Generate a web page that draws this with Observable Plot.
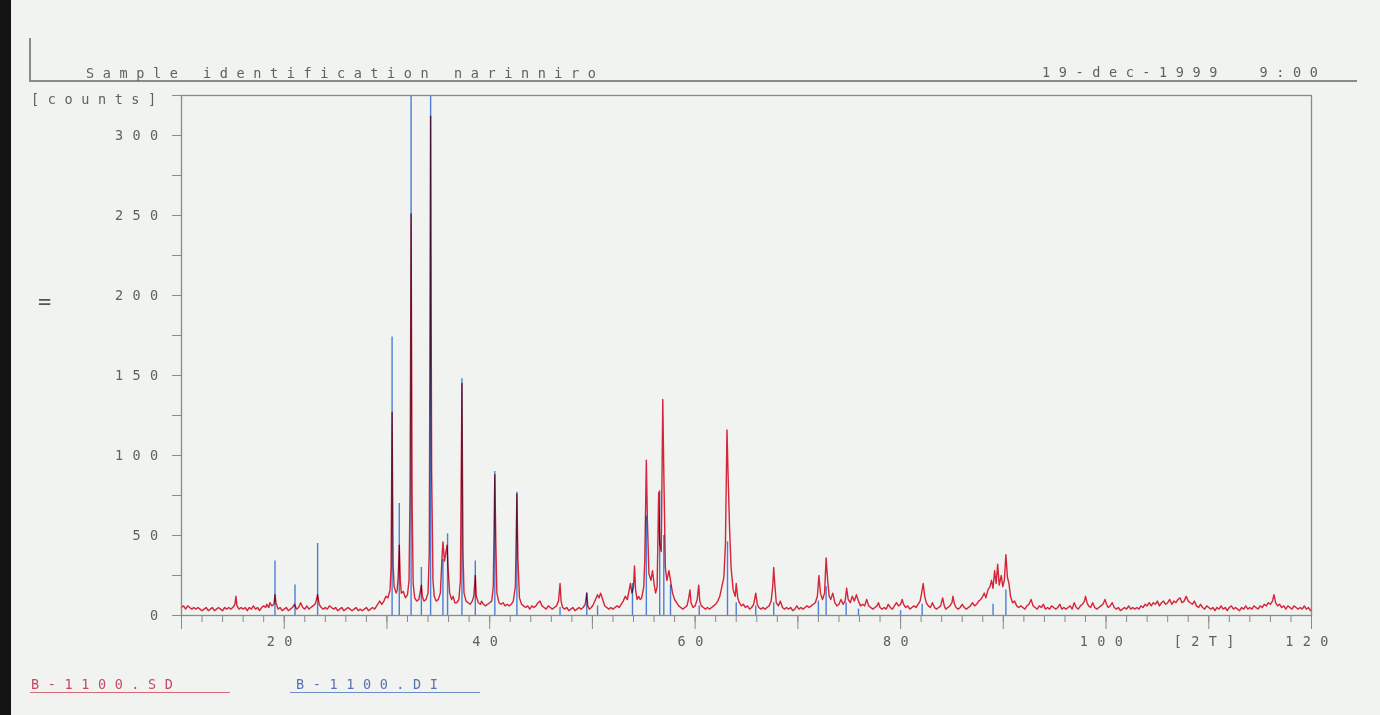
<!DOCTYPE html>
<html>
<head>
<meta charset="utf-8">
<script src="https://cdn.jsdelivr.net/npm/d3@7"></script>
<script src="https://cdn.jsdelivr.net/npm/@observablehq/plot@0.6"></script>
<style>
  html, body { margin: 0; padding: 0; background: #f0f3f0; }
  #page { position: relative; width: 1380px; height: 715px; overflow: hidden; background: #f0f3f0; }
  .t { position: absolute; font-family: "DejaVu Sans Mono", "Liberation Mono", monospace; font-size: 13.5px; line-height: 14px; white-space: pre; color: #606060; letter-spacing: 8.6px; }
  .ln { position: absolute; background: #8a8a8a; }
</style>
</head>
<body>
<div id="page">
  <div id="chart" style="position:absolute;left:0;top:0"></div>
  <div style="position:absolute;left:0;top:0;width:11px;height:715px;background:#141414"></div>
  <div class="ln" style="left:29px;top:38px;width:1.5px;height:43px"></div>
  <div class="ln" style="left:29px;top:80px;width:1328px;height:1.5px"></div>
  <div class="t" style="left:86px;top:66px">Sample identification narinniro</div>
  <div class="t" style="left:1042px;top:65px">19-dec-1999  9:00</div>
  <div class="t" style="left:31px;top:92px">[counts]</div>
  <div class="t" style="left:38px;top:295px;font-size:22px;letter-spacing:0;color:#555">=</div>
  <div class="t" style="left:31px;top:677px;color:#c84a62">B-1100.SD</div>
  <div style="position:absolute;left:30px;top:692px;width:200px;height:1px;background:#d46a7a"></div>
  <div class="t" style="left:296px;top:677px;color:#5a72b0">B-1100.DI</div>
  <div style="position:absolute;left:290px;top:692px;width:190px;height:1px;background:#6f8cc8"></div>
</div>
<script>
// Measured pattern B-1100.SD : [2theta, counts]
const scanPoints = [
[10.0,5],[10.2,6],[10.4,4],[10.6,6],[10.8,5],[11.0,4],[11.2,5],[11.4,4],[11.6,5],[11.8,4],
[12.0,3],[12.2,4],[12.4,5],[12.6,3],[12.8,4],[13.0,5],[13.2,3],[13.4,4],[13.6,5],[13.8,4],
[14.0,3],[14.2,5],[14.4,4],[14.6,5],[14.8,4],[15.0,5],[15.2,7],[15.3,12],[15.4,6],[15.6,4],
[15.8,5],[16.0,4],[16.2,5],[16.4,3],[16.6,5],[16.8,4],[17.0,6],[17.2,4],[17.4,5],[17.6,3],
[17.8,5],[18.0,6],[18.2,5],[18.3,7],[18.5,5],[18.6,8],[18.8,6],[19.0,7],[19.1,13],[19.2,8],
[19.4,4],[19.6,5],[19.8,3],[20.0,4],[20.2,5],[20.4,3],[20.6,4],[20.8,5],[21.0,7],[21.2,4],
[21.4,5],[21.6,8],[21.8,5],[22.0,4],[22.2,6],[22.4,4],[22.6,5],[22.8,6],[23.0,7],[23.1,9],
[23.25,13],[23.4,7],[23.6,5],[23.8,4],[24.0,5],[24.2,4],[24.4,6],[24.6,5],[24.8,4],[25.0,5],
[25.2,3],[25.4,4],[25.6,5],[25.8,3],[26.0,4],[26.2,5],[26.4,4],[26.6,3],[26.8,4],[27.0,5],
[27.2,3],[27.4,4],[27.6,3],[27.8,4],[28.0,5],[28.2,3],[28.4,4],[28.6,5],[28.8,4],[29.0,6],
[29.2,8],[29.3,9],[29.5,7],[29.7,9],[29.9,12],[30.1,11],[30.3,16],[30.4,30],[30.5,127],[30.6,32],
[30.7,18],[30.9,14],[31.0,16],[31.1,25],[31.2,44],[31.3,22],[31.4,14],[31.6,15],[31.8,11],[32.0,13],
[32.15,22],[32.25,80],[32.35,251],[32.45,70],[32.55,20],[32.7,11],[32.9,9],[33.1,10],[33.25,15],[33.35,19],
[33.45,12],[33.6,9],[33.8,10],[34.0,14],[34.12,40],[34.25,312],[34.35,90],[34.48,22],[34.6,12],[34.8,9],
[35.0,10],[35.2,14],[35.35,35],[35.45,46],[35.6,34],[35.7,38],[35.85,44],[35.95,30],[36.1,14],[36.3,10],
[36.45,12],[36.6,8],[36.8,8],[37.0,10],[37.15,22],[37.3,145],[37.4,40],[37.5,14],[37.7,9],[37.9,8],
[38.1,7],[38.3,9],[38.45,12],[38.6,25],[38.7,12],[38.9,8],[39.1,7],[39.2,9],[39.4,7],[39.6,6],
[39.8,7],[40.0,8],[40.2,9],[40.35,18],[40.5,88],[40.6,45],[40.7,14],[40.9,8],[41.1,7],[41.3,8],
[41.5,6],[41.7,7],[41.9,6],[42.1,7],[42.3,9],[42.5,18],[42.65,76],[42.75,35],[42.9,11],[43.1,7],
[43.3,6],[43.5,5],[43.7,6],[43.9,4],[44.1,6],[44.3,5],[44.5,6],[44.7,8],[44.9,9],[45.1,6],
[45.3,5],[45.5,4],[45.7,6],[45.9,5],[46.1,4],[46.3,5],[46.5,6],[46.7,9],[46.85,20],[46.95,9],
[47.1,5],[47.3,4],[47.5,5],[47.7,3],[47.9,4],[48.1,5],[48.3,3],[48.5,4],[48.7,5],[48.9,4],
[49.1,5],[49.3,7],[49.45,14],[49.55,6],[49.7,4],[49.9,5],[50.1,7],[50.3,10],[50.5,13],[50.65,11],
[50.8,14],[51.0,10],[51.2,6],[51.4,5],[51.6,4],[51.8,5],[52.0,4],[52.2,5],[52.4,6],[52.6,5],
[52.8,7],[53.0,9],[53.2,12],[53.4,10],[53.55,15],[53.7,20],[53.85,14],[54.0,18],[54.1,31],[54.2,16],
[54.35,10],[54.5,12],[54.65,10],[54.8,11],[55.0,18],[55.1,35],[55.25,97],[55.35,60],[55.5,26],[55.7,22],
[55.85,28],[56.0,20],[56.15,14],[56.3,18],[56.45,77],[56.55,45],[56.7,40],[56.85,135],[56.95,90],[57.1,30],
[57.25,22],[57.45,28],[57.6,22],[57.8,14],[58.0,10],[58.2,8],[58.4,6],[58.6,5],[58.8,4],[59.0,5],
[59.2,6],[59.35,10],[59.5,16],[59.6,8],[59.8,5],[60.0,6],[60.2,10],[60.35,19],[60.45,9],[60.6,6],
[60.8,5],[61.0,4],[61.2,5],[61.4,4],[61.6,5],[61.8,6],[62.0,7],[62.2,9],[62.4,12],[62.6,18],
[62.8,24],[62.95,45],[63.1,116],[63.2,90],[63.35,55],[63.5,30],[63.7,16],[63.9,12],[64.0,20],[64.15,11],
[64.3,8],[64.5,6],[64.7,7],[64.9,5],[65.1,6],[65.3,4],[65.5,5],[65.7,7],[65.9,14],[66.05,7],
[66.2,5],[66.4,4],[66.6,5],[66.8,4],[67.0,5],[67.2,6],[67.4,9],[67.55,18],[67.65,30],[67.75,20],
[67.9,8],[68.1,6],[68.3,9],[68.5,5],[68.7,4],[68.9,5],[69.1,4],[69.3,5],[69.5,3],[69.7,4],
[69.9,6],[70.1,4],[70.3,5],[70.5,4],[70.7,5],[70.9,6],[71.1,5],[71.3,6],[71.5,7],[71.7,8],
[71.9,12],[72.05,25],[72.2,14],[72.4,10],[72.6,14],[72.75,36],[72.9,22],[73.05,12],[73.2,10],[73.4,14],
[73.6,8],[73.8,6],[74.0,7],[74.2,10],[74.4,7],[74.6,9],[74.75,17],[74.9,10],[75.1,8],[75.3,12],
[75.5,9],[75.7,13],[75.9,9],[76.1,6],[76.3,7],[76.5,6],[76.7,10],[76.9,6],[77.1,5],[77.3,4],
[77.5,5],[77.7,6],[77.85,8],[78.0,5],[78.2,4],[78.4,5],[78.6,4],[78.8,7],[79.0,5],[79.2,4],
[79.4,6],[79.6,8],[79.8,6],[80.0,7],[80.15,10],[80.3,7],[80.5,5],[80.7,6],[80.9,4],[81.1,5],
[81.3,6],[81.5,5],[81.7,7],[81.9,9],[82.05,14],[82.2,20],[82.35,12],[82.5,8],[82.7,6],[82.9,5],
[83.1,8],[83.3,5],[83.5,4],[83.7,5],[83.9,6],[84.1,11],[84.25,6],[84.4,4],[84.6,5],[84.8,6],
[85.0,8],[85.1,12],[85.25,7],[85.4,5],[85.6,4],[85.8,5],[86.0,7],[86.2,5],[86.4,4],[86.6,5],
[86.8,6],[87.0,8],[87.2,6],[87.4,7],[87.6,9],[87.8,10],[88.0,12],[88.15,14],[88.3,11],[88.5,16],
[88.7,18],[88.85,22],[89.0,17],[89.15,28],[89.3,20],[89.45,32],[89.6,19],[89.8,25],[89.95,18],[90.1,22],
[90.25,38],[90.4,24],[90.55,20],[90.7,12],[90.9,8],[91.1,9],[91.3,6],[91.5,5],[91.7,6],[91.9,5],
[92.1,4],[92.3,6],[92.5,7],[92.7,10],[92.9,6],[93.1,5],[93.3,4],[93.5,6],[93.7,5],[93.9,7],
[94.1,4],[94.3,5],[94.5,4],[94.7,6],[94.9,5],[95.1,4],[95.3,5],[95.5,7],[95.7,4],[95.9,5],
[96.1,4],[96.3,5],[96.5,6],[96.7,4],[96.9,8],[97.1,5],[97.3,4],[97.5,6],[97.7,7],[97.9,9],
[98.0,12],[98.15,8],[98.3,6],[98.5,5],[98.7,8],[98.9,5],[99.1,4],[99.3,5],[99.5,6],[99.7,7],
[99.9,10],[100.05,7],[100.2,5],[100.4,6],[100.6,8],[100.8,5],[101.0,4],[101.2,5],[101.4,3],[101.6,4],
[101.8,5],[102.0,4],[102.2,6],[102.4,4],[102.6,5],[102.8,4],[103.0,5],[103.2,4],[103.4,6],[103.6,5],
[103.8,7],[104.0,6],[104.2,8],[104.4,6],[104.6,8],[104.8,7],[105.0,9],[105.2,6],[105.4,8],[105.6,9],
[105.8,7],[106.0,8],[106.2,10],[106.4,7],[106.6,9],[106.8,8],[107.0,10],[107.2,11],[107.4,8],[107.6,9],
[107.8,12],[108.0,9],[108.2,8],[108.4,7],[108.6,9],[108.8,6],[109.0,5],[109.2,7],[109.4,5],[109.6,4],
[109.8,6],[110.0,5],[110.2,4],[110.4,5],[110.6,3],[110.8,5],[111.0,4],[111.2,6],[111.4,4],[111.6,5],
[111.8,3],[112.0,5],[112.2,6],[112.4,4],[112.6,5],[112.8,4],[113.0,3],[113.2,5],[113.4,4],[113.6,6],
[113.8,4],[114.0,5],[114.2,4],[114.4,6],[114.6,5],[114.8,4],[115.0,6],[115.2,5],[115.4,7],[115.6,6],
[115.8,8],[116.0,7],[116.2,9],[116.35,13],[116.5,8],[116.7,6],[116.9,7],[117.1,5],[117.3,6],[117.5,4],
[117.7,6],[117.9,5],[118.1,4],[118.3,6],[118.5,5],[118.7,4],[118.9,5],[119.1,4],[119.3,6],[119.5,4],
[119.7,5],[119.9,3],[120.0,4]
];

// Reference stick pattern B-1100.DI
const stickAngles  = [19.1, 21.05, 23.25, 30.5, 31.2, 32.35, 33.35, 34.25, 35.45, 35.9, 37.3, 38.6, 40.5, 42.65, 46.85, 49.45, 50.5, 53.9, 55.25, 56.55, 56.95, 57.6, 60.4, 63.15, 64.0, 65.9, 67.65, 72.0, 72.75, 74.7, 75.9, 80.0, 82.1, 89.0, 90.25];
const stickCounts  = [34, 19, 45, 174, 70, 340, 30, 340, 35, 51, 148, 34, 90, 77, 5, 14, 6, 20, 62, 78, 50, 19, 6, 46, 8, 6, 8, 9, 18, 8, 4, 3, 7, 7, 16];

const yTickValues = [0, 25, 50, 75, 100, 125, 150, 175, 200, 225, 250, 275, 300, 325];
const yTickLabels = [0, 50, 100, 150, 200, 250, 300];
const xMinorTicks = d3.range(10, 121, 2);
const xMajorTicks = [10, 20, 30, 40, 50, 60, 70, 80, 90, 100, 110, 120];
const xTickLabels = {20: "20", 40: "40", 60: "60", 80: "80", 100: "100", 110: "[2T]", 120: "120"};

const scan = scanPoints.map(([x, y]) => ({x, y}));
const sticks = stickAngles.map((x, i) => ({x, h: stickCounts[i]}));

const chart = Plot.plot({
  width: 1380,
  height: 715,
  marginLeft: 181,
  marginRight: 69,
  marginTop: 95,
  marginBottom: 100,
  x: {domain: [10, 120], label: null},
  y: {domain: [0, 325], label: null},
  style: {background: "transparent", fontFamily: "'DejaVu Sans Mono', 'Liberation Mono', monospace", fontSize: "13.5px", color: "#606060", letterSpacing: "9.4px", overflow: "visible"},
  marks: [
    Plot.ruleX(sticks, {x: "x", y1: 0, y2: "h", stroke: "#4a7fd6", strokeWidth: 1.4, clip: true}),
    Plot.line(scan, {x: "x", y: "y", stroke: "#e2263c", strokeWidth: 1.4, mixBlendMode: "multiply"}),
    Plot.frame({stroke: "#8a8a8a", strokeWidth: 1.3}),
    Plot.axisY({ticks: yTickValues, tickSize: 9, tickPadding: 5, stroke: "#8a8a8a",
      tickFormat: d => yTickLabels.includes(d) ? String(d) : ""}),
    Plot.axisX({ticks: xMinorTicks, tickSize: 7, stroke: "#8a8a8a", tickFormat: () => ""}),
    Plot.axisX({ticks: xMajorTicks, tickSize: 14, tickPadding: 7, stroke: "#8a8a8a",
      tickFormat: d => xTickLabels[d] ?? ""})
  ]
});
document.getElementById("chart").appendChild(chart);
</script>
</body>
</html>
